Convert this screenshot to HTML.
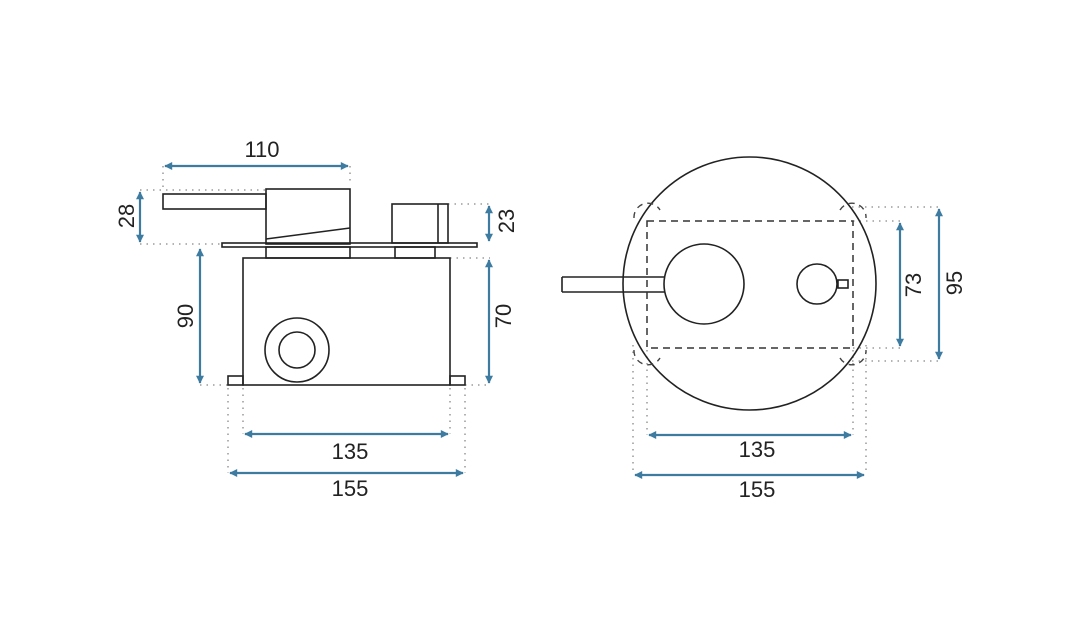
<!DOCTYPE html>
<html><head><meta charset="utf-8"><style>
html,body{margin:0;padding:0;background:#fff;}
svg{display:block;}
text{font-family:"Liberation Sans",sans-serif;font-size:22px;fill:#222;}
</style></head><body>
<svg width="1084" height="637" viewBox="0 0 1084 637" xmlns="http://www.w3.org/2000/svg">
<defs>
<marker id="a" viewBox="0 0 10 10" refX="9" refY="5" markerWidth="12" markerHeight="8" orient="auto-start-reverse" markerUnits="userSpaceOnUse">
<path d="M0,0 L10,5 L0,10 z" fill="#3d7ca0"/></marker>
</defs>
<rect width="1084" height="637" fill="#fff"/>
<g stroke="#888" stroke-width="1.3" stroke-dasharray="1.5 5" fill="none">
<path d="M163,166V190 M350,166V182 M140,190H266 M140,244H222 M200,385H228 M448,204H490 M450,258H490 M465,385H490"/>
<path d="M228,388V473 M243,388V434 M450,388V434 M465,388V473"/>
<path d="M853,221H900 M853,348H900 M852,207H939 M852,361H939"/>
<path d="M633,345V475 M647,350V435 M853,350V435 M866,345V475"/>
</g>
<g stroke="#3d7ca0" stroke-width="2.2" fill="none">
<line x1="165" y1="166" x2="348" y2="166" marker-start="url(#a)" marker-end="url(#a)"/>
<line x1="140" y1="192" x2="140" y2="242" marker-start="url(#a)" marker-end="url(#a)"/>
<line x1="200" y1="249" x2="200" y2="383" marker-start="url(#a)" marker-end="url(#a)"/>
<line x1="489" y1="206" x2="489" y2="241" marker-start="url(#a)" marker-end="url(#a)"/>
<line x1="489" y1="260" x2="489" y2="383" marker-start="url(#a)" marker-end="url(#a)"/>
<line x1="245" y1="434" x2="448" y2="434" marker-start="url(#a)" marker-end="url(#a)"/>
<line x1="230" y1="473" x2="463" y2="473" marker-start="url(#a)" marker-end="url(#a)"/>
<line x1="900" y1="223" x2="900" y2="346" marker-start="url(#a)" marker-end="url(#a)"/>
<line x1="939" y1="209" x2="939" y2="359" marker-start="url(#a)" marker-end="url(#a)"/>
<line x1="649" y1="435" x2="851" y2="435" marker-start="url(#a)" marker-end="url(#a)"/>
<line x1="635" y1="475" x2="864" y2="475" marker-start="url(#a)" marker-end="url(#a)"/>
</g>
<g stroke="#222" stroke-width="1.6" fill="none">
<rect x="163" y="194" width="103" height="15"/>
<rect x="266" y="189" width="84" height="55"/>
<line x1="266" y1="239" x2="350" y2="228"/>
<rect x="222" y="243" width="255" height="4"/>
<rect x="266" y="247" width="84" height="11"/>
<rect x="395" y="247" width="40" height="11"/>
<rect x="392" y="204" width="56" height="39"/>
<line x1="438" y1="204" x2="438" y2="243"/>
<rect x="243" y="258" width="207" height="127"/>
<rect x="228" y="376" width="15" height="9"/>
<rect x="450" y="376" width="15" height="9"/>
<circle cx="297" cy="350" r="32"/>
<circle cx="297" cy="350" r="18"/>
<circle cx="749.5" cy="283.5" r="126.5"/>
<circle cx="704" cy="284" r="40"/>
<circle cx="817" cy="284" r="20"/>
<rect x="838" y="280" width="10" height="8"/>
<path d="M562,277H665 M562,292H665 M562,277V292"/>
</g>
<g stroke="#333" stroke-width="1.5" fill="none" stroke-dasharray="7 5">
<rect x="647" y="221" width="206" height="127"/>
</g>
<g stroke="#444" stroke-width="1.4" fill="none" stroke-dasharray="6 5">
<path d="M634,218 A14,14 0 0 1 660,210"/>
<path d="M840,210 A14,14 0 0 1 866,218"/>
<path d="M634,350 A14,14 0 0 0 660,358"/>
<path d="M840,358 A14,14 0 0 0 866,350"/>
</g>
<text x="262" y="157" text-anchor="middle">110</text>
<text x="350" y="459" text-anchor="middle">135</text>
<text x="350" y="496" text-anchor="middle">155</text>
<text x="757" y="457" text-anchor="middle">135</text>
<text x="757" y="497" text-anchor="middle">155</text>
<text transform="translate(134,216) rotate(-90)" text-anchor="middle">28</text>
<text transform="translate(193,316) rotate(-90)" text-anchor="middle">90</text>
<text transform="translate(514,221) rotate(-90)" text-anchor="middle">23</text>
<text transform="translate(511,316) rotate(-90)" text-anchor="middle">70</text>
<text transform="translate(921,285) rotate(-90)" text-anchor="middle">73</text>
<text transform="translate(962,283) rotate(-90)" text-anchor="middle">95</text>
</svg>
</body></html>
